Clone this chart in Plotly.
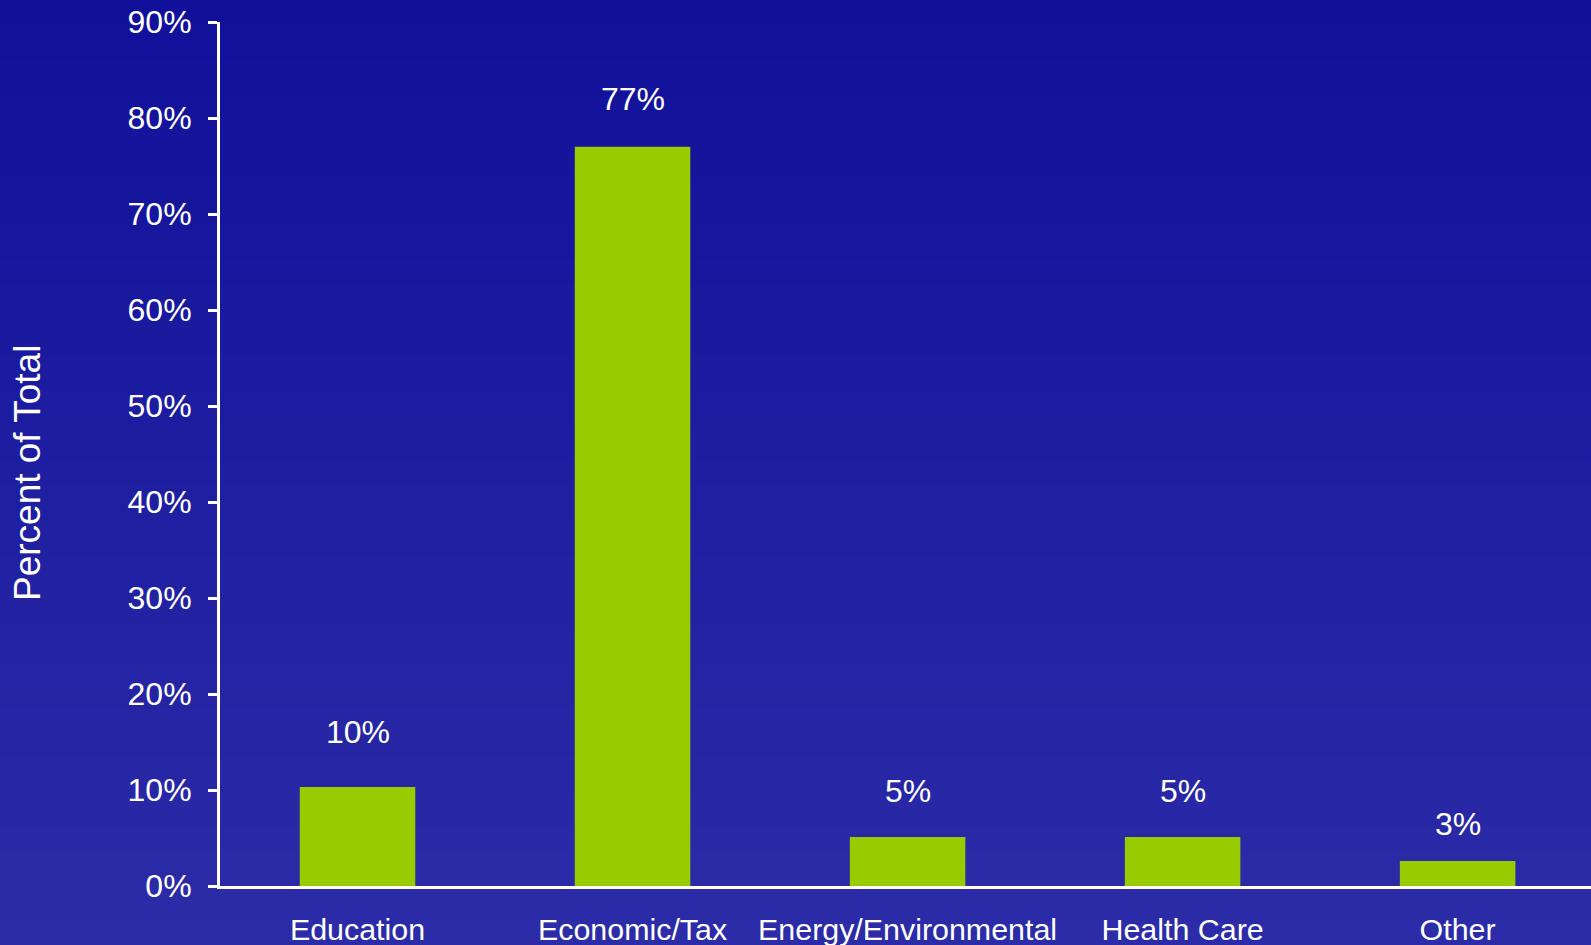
import plotly.graph_objects as go

categories = ["Education", "Economic/Tax", "Energy/Environmental", "Health Care", "Other"]
values = [10.3, 77.0, 5.1, 5.1, 2.6]
labels = ["10%", "77%", "5%", "5%", "3%"]
tick_vals = [0, 10, 20, 30, 40, 50, 60, 70, 80, 90]
tick_text = ["0%", "10%", "20%", "30%", "40%", "50%", "60%", "70%", "80%", "90%"]

# styling: vertical pixel offset of each value label above its bar
label_offset_px = [55, 48, 46, 46, 37]

W, H = 1591, 945
ML, MR, MT, MB = 220, 0, 22, 59
PW, PH = W - ML - MR, H - MT - MB
FONT = "Liberation Sans, Arial, sans-serif"

fig = go.Figure()
fig.add_trace(go.Bar(
    x=list(range(len(categories))), y=values,
    marker=dict(color="#99CC00", line=dict(width=0)),
    width=0.42, hoverinfo="skip", showlegend=False,
))

for i, (v, t) in enumerate(zip(values, labels)):
    fig.add_annotation(x=i, y=v, text=t, showarrow=False, yshift=label_offset_px[i],
                       font=dict(family=FONT, size=32, color="white"))

# y-axis title
fig.add_annotation(xref="paper", yref="paper", x=(28 - ML) / PW, y=(PH - (473 - MT)) / PH,
                   xanchor="center", yanchor="middle", textangle=-90, showarrow=False,
                   text="Percent of Total", font=dict(family=FONT, size=37, color="white"))

# vertical gradient background
top = (16, 16, 154)
bot = (44, 44, 168)
n = 80
y_lo = -MB / PH
y_hi = 1 + MT / PH
shapes = []
for k in range(n):
    f = k / (n - 1)
    c = tuple(round(top[j] + (bot[j] - top[j]) * f) for j in range(3))
    ya = y_hi - (y_hi - y_lo) * k / n
    yb = y_hi - (y_hi - y_lo) * (k + 1) / n
    shapes.append(dict(type="rect", xref="paper", yref="paper",
                       x0=-ML / PW - 0.01, x1=1 + MR / PW + 0.01, y0=yb - 0.002, y1=ya,
                       fillcolor="rgb(%d,%d,%d)" % c, line=dict(width=0),
                       layer="below"))

fig.update_layout(
    width=W, height=H,
    margin=dict(l=ML, r=MR, t=MT, b=MB, pad=0, autoexpand=False),
    paper_bgcolor="rgb(30,30,160)",
    plot_bgcolor="rgba(0,0,0,0)",
    shapes=shapes,
    xaxis=dict(
        range=[-0.5, 4.485], tickmode="array",
        tickvals=list(range(len(categories))), ticktext=categories,
        showgrid=False, zeroline=False, showline=True, linecolor="white", linewidth=3,
        ticks="", ticklabelstandoff=15, automargin=False,
        tickfont=dict(family=FONT, size=30.4, color="white"),
        fixedrange=True,
    ),
    yaxis=dict(
        range=[0, 90], tickmode="array", tickvals=tick_vals, ticktext=tick_text,
        showgrid=False, zeroline=False, showline=True, linecolor="white", linewidth=3,
        ticks="outside", ticklen=9, tickwidth=3, tickcolor="white",
        ticklabelstandoff=10, automargin=False,
        tickfont=dict(family=FONT, size=32, color="white"),
        fixedrange=True,
    ),
)

fig.write_html(
    "out.html",
    config={"displayModeBar": False},
    post_script="document.body.style.margin='0';document.body.style.overflow='hidden';",
)
